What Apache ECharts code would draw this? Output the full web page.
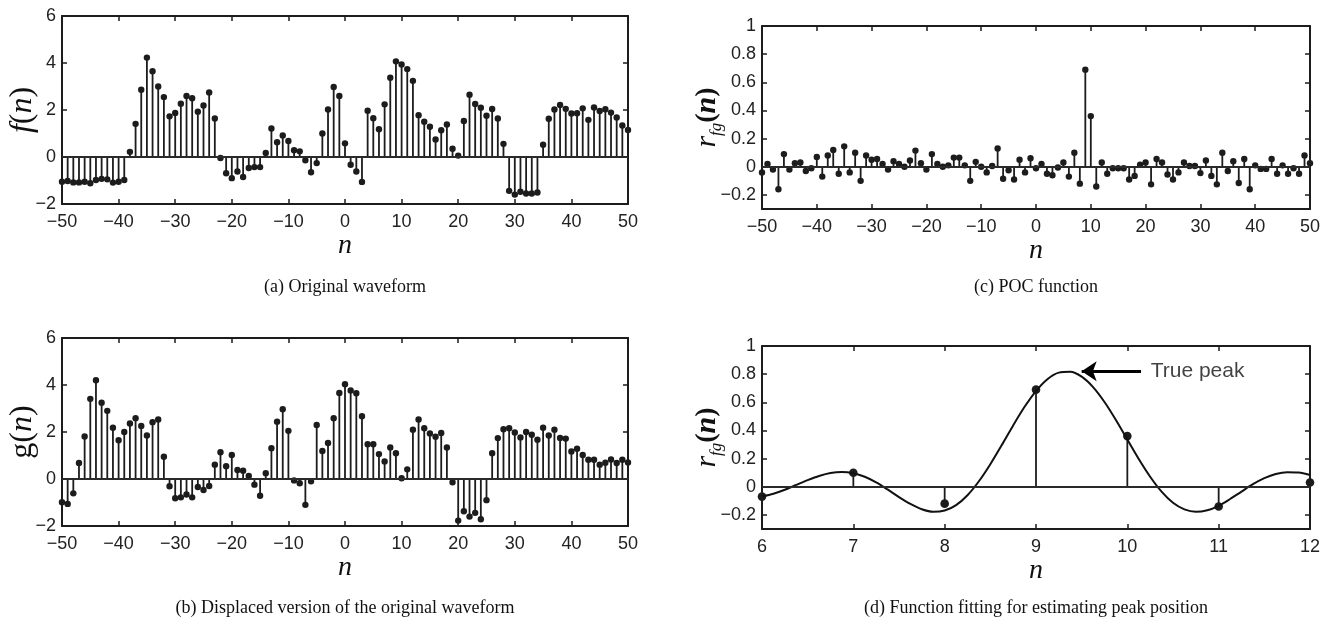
<!DOCTYPE html>
<html>
<head>
<meta charset="utf-8">
<script src="https://cdn.jsdelivr.net/npm/echarts@6/dist/echarts.min.js"></script>
<style>
  html, body { margin: 0; padding: 0; background: #fff; }
  #chart { width: 1337px; height: 621px; }
</style>
</head>
<body>
<div id="chart"></div>
<script>
// Sample index shared by panels (a), (b), (c)
const nIndex = [];
for (let k = -50; k <= 50; k++) nIndex.push(k);

// (a) original waveform f(n), n = -50..50
const fValues = [
  -1.05, -1.02, -1.08, -1.08, -1.05, -1.12, -0.98, -0.93, -0.95, -1.09, -1.05, -0.98,
  0.22, 1.41, 2.86, 4.23, 3.65, 3.0, 2.55, 1.73, 1.87, 2.27, 2.6, 2.5, 1.93, 2.19, 2.75, 1.64,
  -0.04, -0.69, -0.9, -0.62, -0.85, -0.47, -0.43, -0.43, 0.17, 1.21, 0.63, 0.92, 0.68, 0.29, 0.24, -0.14, -0.65, -0.26,
  1.0, 2.02, 2.98, 2.6, 0.58, -0.33, -0.62, -1.06,
  1.97, 1.65, 1.18, 2.24, 3.37, 4.07, 3.94, 3.74, 3.24, 1.78, 1.5, 1.29, 0.75, 1.14, 1.38, 0.35, 0.06, 1.53, 2.65, 2.26, 2.1, 1.76, 2.04, 1.64, 0.56,
  -1.44, -1.6, -1.48, -1.55, -1.55, -1.51,
  0.52, 1.63, 2.02, 2.21, 2.05, 1.85, 1.86, 2.07, 1.58, 2.11, 1.96, 2.03, 1.89, 1.68, 1.34, 1.15
];

// (b) displaced waveform g(n), n = -50..50
const gValues = [
  -0.99, -1.06, -0.61, 0.68, 1.81, 3.41, 4.2, 3.25, 2.9, 2.18, 1.65, 2.0, 2.36, 2.59, 2.26, 1.85, 2.42, 2.53, 0.95,
  -0.31, -0.82, -0.78, -0.66, -0.78, -0.34, -0.47, -0.3,
  0.61, 1.14, 0.54, 1.02, 0.38, 0.35, 0.13,
  -0.24, -0.71,
  0.25, 1.31, 2.44, 2.97, 2.05,
  -0.06, -0.18, -1.1, -0.1,
  2.3, 1.19, 1.53, 2.59, 3.66, 4.03, 3.77, 3.65, 2.67, 1.48, 1.48, 1.06, 0.75, 1.34, 1.1, 0.03, 0.41, 2.1, 2.53, 2.16, 1.94, 1.8, 1.96, 1.34,
  -0.14, -1.77, -1.37, -1.6, -1.44, -1.71, -0.9,
  1.1, 1.74, 2.12, 2.16, 1.98, 1.77, 2.0, 1.88, 1.67, 2.18, 1.85, 2.1, 1.75, 1.72, 1.17, 1.29, 1.02, 0.82, 0.82, 0.61, 0.69, 0.83, 0.68, 0.82, 0.7
];

// (c) POC function r_fg(n), n = -50..50
const rValues = [
  -0.04, 0.02, -0.02, -0.16, 0.09, -0.02, 0.025, 0.03, -0.03, -0.01,
  0.07, -0.07, 0.08, 0.12, -0.05, 0.145, -0.04, 0.1, -0.1, 0.08,
  0.05, 0.055, 0.02, -0.02, 0.04, 0.02, 0.0, 0.045, 0.115, 0.025,
  -0.02, 0.09, 0.02, 0.0, 0.01, 0.065, 0.065, 0.01, -0.1, 0.035,
  0.0, -0.04, 0.005, 0.13, -0.085, -0.025, -0.09, 0.05, -0.04, 0.06,
  -0.01, 0.02, -0.05, -0.06, -0.005, 0.03, -0.07, 0.1, -0.12, 0.69,
  0.36, -0.14, 0.03, -0.05, -0.01, -0.01, -0.01, -0.09, -0.065, 0.015,
  0.03, -0.125, 0.055, 0.03, -0.055, -0.09, -0.04, 0.03, 0.005, 0.005,
  -0.045, 0.045, -0.065, -0.125, 0.1, -0.03, 0.04, -0.115, 0.055, -0.16,
  0.01, -0.015, -0.015, 0.055, -0.05, 0.01, -0.05, -0.01, -0.05, 0.08, 0.025
];

// (d) fitted peak model, sampled along n every 1/8
const fitN = [6, 6.125, 6.25, 6.375, 6.5, 6.625, 6.75, 6.875, 7, 7.125, 7.25, 7.375, 7.5, 7.625, 7.75, 7.875,
              8, 8.125, 8.25, 8.375, 8.5, 8.625, 8.75, 8.875, 9, 9.125, 9.25, 9.375, 9.5, 9.625, 9.75, 9.875,
              10, 10.125, 10.25, 10.375, 10.5, 10.625, 10.75, 10.875, 11, 11.125, 11.25, 11.375, 11.5, 11.625, 11.75, 11.875, 12];
const fitR = [-0.068, -0.049, -0.021, 0.013, 0.047, 0.077, 0.098, 0.105, 0.096, 0.071, 0.031, -0.019, -0.073, -0.122, -0.160, -0.178,
              -0.169, -0.130, -0.060, 0.039, 0.160, 0.296, 0.436, 0.568, 0.680, 0.764, 0.811, 0.817, 0.782, 0.708, 0.602, 0.474,
              0.335, 0.197, 0.071, -0.035, -0.114, -0.161, -0.178, -0.167, -0.135, -0.087, -0.034, 0.018, 0.061, 0.091, 0.104, 0.102, 0.084];

// Tick values on the correlation axes
const pocTicks = [-0.2, 0, 0.2, 0.4, 0.6, 0.8, 1];

// Annotation in panel (d)
const peakArrow = { from: [10.15, 0.82], to: [9.5, 0.82], text: 'True peak' };

// Captions
const captions = [
  '(a) Original waveform',
  '(b) Displaced version of the original waveform',
  '(c) POC function',
  '(d) Function fitting for estimating peak position'
];

const SANS = '"Liberation Sans", Arial, Helvetica, sans-serif';
const SERIF = '"Liberation Serif", "Times New Roman", serif';
const INK = '#1c1c1c';

const pairs = (xs, ys) => xs.map((x, i) => [x, ys[i]]);
const zoomStems = nIndex.map((n, i) => [n, rValues[i]]).filter(p => p[0] >= 6 && p[0] <= 12);

const minusSign = v => String(v).replace('-', '\u2212');

function stemRenderer(dotR, lw) {
  return function (params, api) {
    const x = api.value(0), y = api.value(1);
    const base = api.coord([x, 0]);
    const tip = api.coord([x, y]);
    return {
      type: 'group',
      children: [
        { type: 'line', shape: { x1: base[0], y1: base[1], x2: tip[0], y2: tip[1] },
          style: { stroke: INK, lineWidth: lw } },
        { type: 'circle', shape: { cx: tip[0], cy: tip[1], r: dotR },
          style: { fill: INK } }
      ]
    };
  };
}

const grids = [
  { left: 62, top: 16, width: 566, height: 188 },
  { left: 62, top: 338, width: 566, height: 188 },
  { left: 762, top: 26, width: 548, height: 183 },
  { left: 762, top: 346, width: 548, height: 183 }
];

const frameLine = { show: true, onZero: false, lineStyle: { color: INK, width: 2 } };
const innerTick = { show: true, inside: true, length: 5, lineStyle: { color: INK, width: 1.5 } };
const tickFont = { color: '#222', fontFamily: SANS, fontSize: 18 };

function xPair(gi, min, max, interval, nameGap) {
  return [
    { type: 'value', gridIndex: gi, position: 'bottom', min, max, interval,
      axisLine: frameLine, axisTick: Object.assign({}, innerTick),
      axisLabel: Object.assign({}, tickFont, { margin: 9, formatter: minusSign, interval: 0, hideOverlap: false }),
      splitLine: { show: false },
      name: 'n', nameLocation: 'middle', nameGap,
      nameTextStyle: { fontFamily: SERIF, fontStyle: 'italic', fontSize: 28, color: '#111' } },
    { type: 'value', gridIndex: gi, position: 'top', min, max, interval,
      axisLine: frameLine, axisTick: Object.assign({}, innerTick), axisLabel: { show: false }, splitLine: { show: false } }
  ];
}

function yPair(gi, min, max, interval, customTicks, name, rich, nameGap) {
  const tick = Object.assign({}, innerTick);
  const label = Object.assign({}, tickFont, { margin: 6, formatter: minusSign });
  if (customTicks) { tick.customValues = customTicks; label.customValues = customTicks; }
  return [
    { type: 'value', gridIndex: gi, position: 'left', min, max, interval,
      axisLine: frameLine, axisTick: tick, axisLabel: label, splitLine: { show: false },
      name, nameLocation: 'middle', nameRotate: 90, nameGap, nameMoveOverlap: false,
      nameTextStyle: { rich } },
    { type: 'value', gridIndex: gi, position: 'right', min, max, interval,
      axisLine: frameLine, axisTick: Object.assign({}, tick), axisLabel: { show: false }, splitLine: { show: false } }
  ];
}

const nameRichWave = {
  i: { fontFamily: SERIF, fontStyle: 'italic', fontSize: 32, color: '#111', lineHeight: 38 },
  p: { fontFamily: SERIF, fontSize: 32, color: '#111', lineHeight: 38 }
};
const nameRichPoc = {
  i: { fontFamily: SERIF, fontStyle: 'italic', fontSize: 30, color: '#111', lineHeight: 36 },
  s: { fontFamily: SERIF, fontStyle: 'italic', fontSize: 17, color: '#111', lineHeight: 36, verticalAlign: 'bottom' },
  b: { fontFamily: SERIF, fontWeight: 'bold', fontSize: 28, color: '#111', lineHeight: 36 },
  bi: { fontFamily: SERIF, fontStyle: 'italic', fontWeight: 'bold', fontSize: 30, color: '#111', lineHeight: 36 }
};

const xAxes = [].concat(
  xPair(0, -50, 50, 10, 24),
  xPair(1, -50, 50, 10, 24),
  xPair(2, -50, 50, 10, 20),
  xPair(3, 6, 12, 1, 22)
);
const yAxes = [].concat(
  yPair(0, -2, 6, 2, null, '{i|f}{p|(}{i|n}{p|)}', nameRichWave, 20),
  yPair(1, -2, 6, 2, null, '{p|g(}{i|n}{p|)}', nameRichWave, 20),
  yPair(2, -0.3, 1, null, pocTicks, '{i|r}{s|fg}{b|(}{bi|n}{b|)}', nameRichPoc, 37),
  yPair(3, -0.3, 1, null, pocTicks, '{i|r}{s|fg}{b|(}{bi|n}{b|)}', nameRichPoc, 37)
);

const baseline = {
  silent: true, symbol: ['none', 'none'], label: { show: false },
  lineStyle: { color: '#2a2a2a', width: 2, type: 'solid' },
  data: [{ yAxis: 0 }]
};

function stemSeries(gi, data, r, lw) {
  return {
    type: 'custom', xAxisIndex: gi * 2, yAxisIndex: gi * 2, clip: false,
    renderItem: stemRenderer(r, lw), encode: { x: 0, y: 1 }, data,
    markLine: baseline, z: 3
  };
}

const series = [
  stemSeries(0, pairs(nIndex, fValues), 3.2, 1.8),
  stemSeries(1, pairs(nIndex, gValues), 3.2, 1.8),
  stemSeries(2, pairs(nIndex, rValues), 3.2, 1.8),
  stemSeries(3, zoomStems, 4.3, 1.8),
  {
    type: 'line', xAxisIndex: 6, yAxisIndex: 6, data: pairs(fitN, fitR),
    smooth: 0.3, showSymbol: false, clip: false,
    lineStyle: { color: '#111', width: 2 }, z: 4,
    markLine: {
      silent: true, symbol: ['none', 'arrow'], symbolSize: 15,
      label: { show: false },
      lineStyle: { color: '#000', width: 3, type: 'solid' },
      data: [[{ coord: peakArrow.from }, { coord: peakArrow.to }]]
    }
  },
  {
    type: 'scatter', xAxisIndex: 6, yAxisIndex: 6, silent: true,
    data: [[peakArrow.from[0] + 0.1, peakArrow.from[1]]],
    symbolSize: 1, itemStyle: { color: 'rgba(0,0,0,0)' },
    label: { show: true, position: 'right', distance: 0, formatter: peakArrow.text,
             fontFamily: SANS, fontSize: 21, color: '#111' }
  }
];

const capPos = [[345, 287], [345, 608], [1036, 287], [1036, 608]];
const graphic = captions.map((t, i) => ({
  type: 'text', x: capPos[i][0], y: capPos[i][1],
  style: { text: t, font: '18px ' + SERIF, fill: '#111', textAlign: 'center', textVerticalAlign: 'middle' }
}));

const chart = echarts.init(document.getElementById('chart'), null, { renderer: 'canvas' });
chart.setOption({
  animation: false,
  backgroundColor: '#fff',
  grid: grids,
  xAxis: xAxes,
  yAxis: yAxes,
  series,
  graphic
});
</script>
</body>
</html>
